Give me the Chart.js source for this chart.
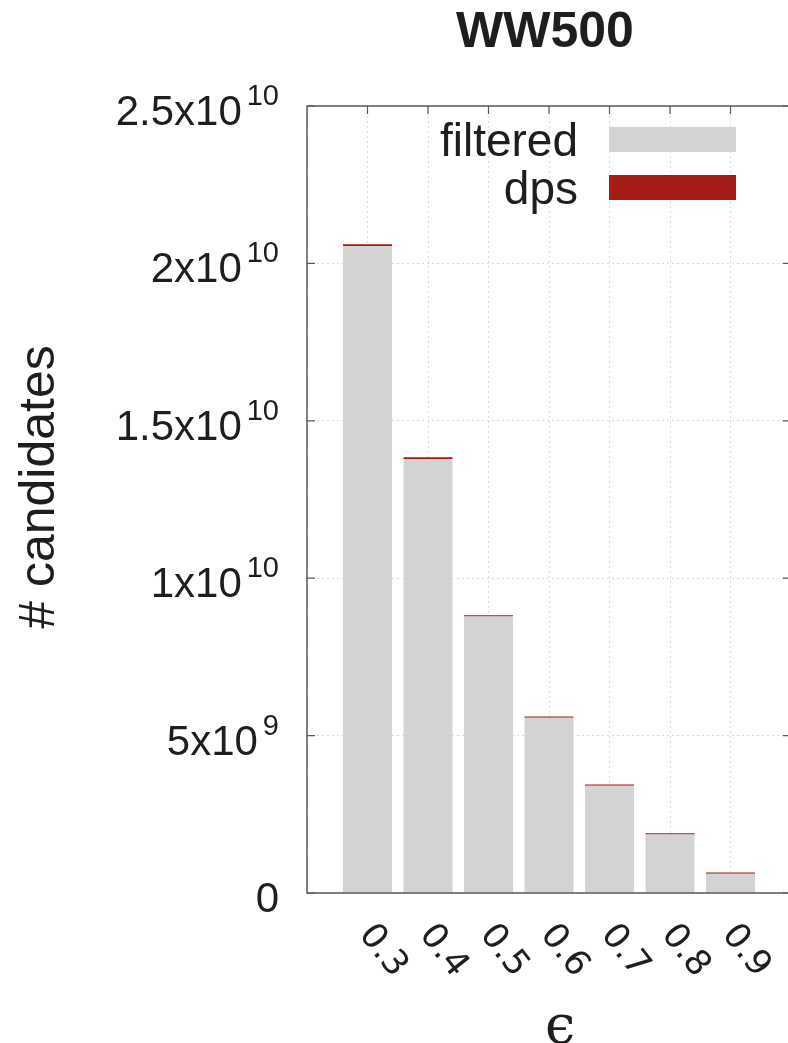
<!DOCTYPE html>
<html>
<head>
<meta charset="utf-8">
<script src="https://cdn.jsdelivr.net/npm/chart.js@4"></script>
<style>
html, body { margin: 0; padding: 0; background: #fff; overflow: hidden; }
#wrap { width: 800px; height: 1043px; }
</style>
</head>
<body>
<div id="wrap"><canvas id="chart" width="800" height="1043"></canvas></div>
<script>
var categories = ["0.3", "0.4", "0.5", "0.6", "0.7", "0.8", "0.9"];
var filtered = [2.055e10, 1.379e10, 0.878e10, 0.557e10, 0.341e10, 0.186e10, 0.061e10];
var dps = [6e7, 5e7, 4.5e7, 4e7, 4e7, 4e7, 4e7];
var yTicks = [0, 5e9, 1e10, 1.5e10, 2e10, 2.5e10];
var xMin = 0.2, xMax = 1.0;

var GREY = "#d3d3d3";
var RED = "#a31c16";
var FRAME = "#5a5a5a";
var TEXT = "#1e1e1e";

function points(arr) {
  return arr.map(function (v, i) {
    return { x: parseFloat(categories[i]), y: v };
  });
}

// split 2.5e10 into "2.5x10" and "10" for the superscript labels
function sciParts(v) {
  var e = Math.floor(Math.log10(v) + 1e-9);
  var m = Math.round((v / Math.pow(10, e)) * 10) / 10;
  return { mant: String(m) + "x10", exp: String(e) };
}

var decor = {
  id: "decor",
  afterDraw: function (chart) {
    var c = chart.ctx;
    var a = chart.chartArea;
    var xs = chart.scales.x, ys = chart.scales.y;
    c.save();

    // frame
    c.strokeStyle = FRAME;
    c.lineWidth = 1.5;
    c.strokeRect(a.left, a.top, a.right - a.left, a.bottom - a.top);

    // inward ticks: left / right for y, top for categories
    c.lineWidth = 1.2;
    c.beginPath();
    yTicks.forEach(function (t) {
      var py = ys.getPixelForValue(t);
      c.moveTo(a.left, py); c.lineTo(a.left + 8, py);
      c.moveTo(a.right - 8, py); c.lineTo(a.right, py);
    });
    categories.forEach(function (cat) {
      var px = xs.getPixelForValue(parseFloat(cat));
      c.moveTo(px, a.top); c.lineTo(px, a.top + 8);
    });
    c.stroke();

    // y tick labels with superscript exponent
    c.fillStyle = TEXT;
    c.textBaseline = "alphabetic";
    var rightX = 279;
    yTicks.forEach(function (t) {
      var py = ys.getPixelForValue(t);
      if (t === 0) {
        c.font = "42px 'Liberation Sans', Arial, sans-serif";
        c.textAlign = "right";
        c.fillText("0", rightX, py + 19);
        return;
      }
      var p = sciParts(t);
      c.font = "29px 'Liberation Sans', Arial, sans-serif";
      var ew = c.measureText(p.exp).width;
      c.textAlign = "left";
      c.fillText(p.exp, rightX - ew, py - 1);
      c.font = "42px 'Liberation Sans', Arial, sans-serif";
      c.textAlign = "right";
      c.fillText(p.mant, rightX - ew - 5, py + 19);
    });

    // rotated x tick labels
    c.font = "35px 'DejaVu Sans', sans-serif";
    c.textAlign = "left";
    c.textBaseline = "middle";
    categories.forEach(function (cat) {
      var px = xs.getPixelForValue(parseFloat(cat));
      c.save();
      c.translate(px - 2, a.bottom + 36);
      c.rotate(52 * Math.PI / 180);
      c.fillText(cat, 0, 0);
      c.restore();
    });

    // axis titles
    c.font = "54px 'DejaVu Serif', serif";
    c.textAlign = "center";
    c.textBaseline = "alphabetic";
    c.fillText("\u03f5", 560, 1043);

    c.save();
    c.translate(40, 487);
    c.rotate(-Math.PI / 2);
    c.font = "50px 'Liberation Sans', Arial, sans-serif";
    c.textBaseline = "middle";
    c.fillText("# candidates", 0, 0);
    c.restore();

    // chart title
    c.font = "bold 50px 'Liberation Sans', Arial, sans-serif";
    c.textAlign = "center";
    c.textBaseline = "middle";
    c.fillText("WW500", 545, 33);

    // legend, top right inside the plot
    c.font = "46px 'Liberation Sans', Arial, sans-serif";
    c.textAlign = "right";
    c.textBaseline = "alphabetic";
    chart.data.datasets.forEach(function (ds, i) {
      var base = 156 + i * 48;
      c.fillStyle = TEXT;
      c.fillText(ds.label, 578, base);
      c.fillStyle = ds.backgroundColor;
      c.fillRect(609, base - 29, 127, 25);
    });

    c.restore();
  }
};

var ctx = document.getElementById("chart");
var myChart = new Chart(ctx, {
  type: "bar",
  data: {
    datasets: [
      { label: "filtered", backgroundColor: GREY, data: points(filtered) },
      { label: "dps", backgroundColor: RED, data: points(dps) }
    ]
  },
  options: {
    responsive: false,
    animation: false,
    barPercentage: 0.81,
    categoryPercentage: 1.0,
    layout: { padding: { left: 307, top: 106, right: 9, bottom: 150 } },
    plugins: {
      legend: { display: false },
      title: { display: false },
      tooltip: { enabled: false }
    },
    scales: {
      x: {
        type: "linear",
        stacked: true,
        offset: false,
        min: xMin,
        max: xMax,
        ticks: { display: false, stepSize: 0.1 },
        grid: { offset: false, color: "#dadada", lineWidth: 1, drawTicks: false },
        border: { display: false, dash: [2, 3] }
      },
      y: {
        stacked: true,
        min: 0,
        max: 2.5e10,
        ticks: { display: false, stepSize: 5e9 },
        grid: { color: "#dadada", lineWidth: 1, drawTicks: false },
        border: { display: false, dash: [2, 3] }
      }
    }
  },
  plugins: [decor]
});
</script>
</body>
</html>
